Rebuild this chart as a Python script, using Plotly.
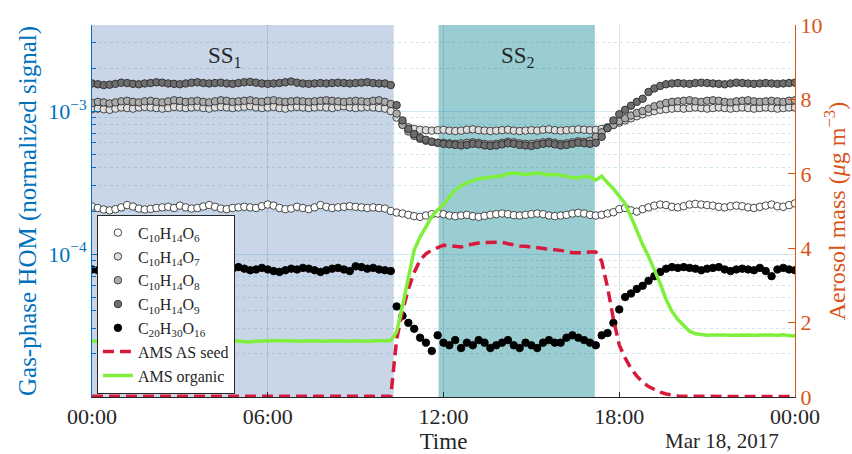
import pandas as pd
import plotly.graph_objects as go

# ---------------- data (12-min resolution, 17 Mar 2017 00:00 -> 18 Mar 2017 00:00) -------------
time = pd.date_range("2017-03-17 00:00", periods=121, freq="12min")

# C10H14O6 (x1e-4)
o6_e4 = [2.15, 2.10, 2.05, 2.02, 2.06, 2.12, 2.20, 2.15, 2.08, 2.05,
         2.07, 2.10, 2.12, 2.14, 2.10, 2.18, 2.12, 2.08, 2.10, 2.15,
         2.20, 2.14, 2.08, 2.06, 2.10, 2.12, 2.14, 2.12, 2.10, 2.16,
         2.22, 2.18, 2.10, 2.06, 2.08, 2.14, 2.10, 2.06, 2.12, 2.20,
         2.14, 2.10, 2.12, 2.14, 2.16, 2.14, 2.12, 2.10, 2.12, 2.10,
         2.08, 2.00, 1.95, 1.92, 1.88, 1.84, 1.82, 1.86, 1.90, 1.92,
         1.90, 1.86, 1.84, 1.86, 1.88, 1.84, 1.82, 1.85, 1.88, 1.90,
         1.92, 1.90, 1.87, 1.86, 1.88, 1.90, 1.92, 1.90, 1.86, 1.84,
         1.86, 1.88, 1.92, 1.94, 1.92, 1.88, 1.86, 1.88, 1.92, 1.96,
         2.06, 2.10, 2.02, 1.98, 2.06, 2.12, 2.18, 2.22, 2.20, 2.14,
         2.12, 2.16, 2.22, 2.24, 2.22, 2.20, 2.18, 2.14, 2.12, 2.16,
         2.18, 2.16, 2.12, 2.10, 2.14, 2.18, 2.22, 2.16, 2.14, 2.20, 2.26]

# C10H14O7 (x1e-4)
o7_e4 = [10.3, 10.4, 10.3, 10.2, 10.4, 10.6, 10.5, 10.4, 10.6, 10.7,
         10.6, 10.5, 10.4, 10.5, 10.7, 10.6, 10.5, 10.6, 10.7, 10.5,
         10.4, 10.6, 10.7, 10.6, 10.5, 10.6, 10.7, 10.8, 10.6, 10.5,
         10.6, 10.7, 10.5, 10.4, 10.6, 10.7, 10.6, 10.5, 10.6, 10.7,
         10.6, 10.5, 10.7, 10.8, 10.6, 10.5, 10.6, 10.7, 10.6, 10.5,
         10.4, 10.0, 9.0, 8.2, 7.7, 7.5, 7.4, 7.35, 7.3, 7.35,
         7.4, 7.3, 7.25, 7.3, 7.4, 7.45, 7.35, 7.3, 7.25, 7.3,
         7.35, 7.4, 7.3, 7.25, 7.3, 7.35, 7.3, 7.4, 7.45, 7.35,
         7.3, 7.35, 7.4, 7.45, 7.4, 7.35, 7.4, 7.5, 7.7, 8.0,
         8.3, 8.6, 8.9, 9.2, 9.5, 9.8, 10.0, 10.2, 10.3, 10.4,
         10.5, 10.4, 10.5, 10.6, 10.5, 10.4, 10.5, 10.6, 10.5, 10.4,
         10.5, 10.6, 10.5, 10.4, 10.5, 10.6, 10.5, 10.4, 10.5, 10.6, 10.6]

# C10H14O8 (x1e-4)
o8_e4 = [11.4, 11.6, 11.5, 11.3, 11.5, 11.7, 11.8, 11.6, 11.5, 11.7,
         11.8, 11.6, 11.5, 11.7, 11.9, 11.8, 11.6, 11.7, 11.8, 11.6,
         11.5, 11.7, 11.9, 11.8, 11.6, 11.7, 11.8, 11.9, 11.7, 11.6,
         11.8, 11.9, 11.7, 11.6, 11.7, 11.8, 11.7, 11.6, 11.7, 11.8,
         11.9, 11.8, 11.7, 11.6, 11.7, 11.8, 11.7, 11.6, 11.8, 11.9,
         11.6, 11.2, 9.6, 8.0, 7.2, 6.7, 6.4, 6.2, 6.1, 6.0,
         6.0, 5.95, 5.9, 5.95, 6.0, 6.05, 6.0, 5.9, 5.85, 5.9,
         6.0, 6.1, 6.05, 5.95, 5.9, 5.9, 5.95, 6.05, 6.1, 6.0,
         5.9, 5.95, 6.05, 6.15, 6.1, 6.2, 6.6, 7.1, 7.6, 8.0,
         8.5, 8.9, 9.3, 9.7, 10.0, 10.4, 10.8, 11.1, 11.4, 11.6,
         11.7, 11.8, 11.9, 11.7, 11.6, 11.8, 11.9, 11.8, 11.6, 11.5,
         11.7, 11.8, 11.9, 11.7, 11.6, 11.7, 11.8, 11.7, 11.6, 11.8, 11.9]

# C10H14O9 (x1e-4)
o9_e4 = [15.6, 15.4, 15.2, 15.3, 15.5, 15.8, 15.7, 15.5, 15.4, 15.6,
         15.7, 15.9, 15.8, 15.6, 15.5, 15.4, 15.6, 15.8, 15.9, 15.7,
         15.6, 15.7, 15.8, 15.6, 15.5, 15.7, 15.9, 16.0, 15.8, 15.6,
         15.5, 15.6, 15.7, 15.9, 16.1, 15.8, 15.6, 15.5, 15.6, 15.7,
         15.6, 15.7, 15.8, 15.7, 15.6, 15.7, 15.8, 15.9, 15.7, 15.6,
         15.6, 15.2, 11.0, 8.6, 7.5, 6.9, 6.5, 6.3, 6.1, 6.0,
         5.9, 5.85, 5.8, 5.75, 5.8, 5.9, 5.85, 5.75, 5.7, 5.75,
         5.85, 5.95, 5.9, 5.8, 5.75, 5.7, 5.8, 5.9, 5.95, 5.85,
         5.75, 5.8, 5.9, 6.0, 5.95, 5.9, 6.0, 6.6, 7.6, 8.6,
         9.5, 10.2, 10.9, 11.6, 12.2, 13.6, 14.4, 15.0, 15.4, 15.6,
         15.7, 15.6, 15.5, 15.7, 15.8, 15.7, 15.6, 15.5, 15.4, 15.6,
         15.8, 15.7, 15.6, 15.5, 15.6, 15.7, 15.6, 15.5, 15.6, 15.7, 15.8]

# C20H30O16 (x1e-5)
c20_e5 = [7.8, 7.7, 7.6, 7.8, 7.9, 8.0, 7.8, 7.6, 7.5, 7.7,
          7.9, 8.1, 7.9, 7.7, 7.6, 7.8, 8.0, 7.8, 7.6, 7.7,
          7.9, 8.0, 7.8, 7.7, 7.9, 8.1, 7.9, 7.7, 7.8, 8.0,
          7.8, 7.6, 7.5, 7.7, 7.9, 7.8, 8.0, 7.9, 7.7, 7.5,
          7.7, 7.9, 8.0, 7.8, 7.6, 8.2, 8.1, 7.9, 8.0, 7.8,
          7.7, 7.6, 4.3, 3.7, 3.3, 3.0, 2.6, 2.4, 2.1, 2.7,
          2.4, 2.3, 2.5, 2.2, 2.4, 2.3, 2.5, 2.4, 2.2, 2.3,
          2.4, 2.5, 2.3, 2.2, 2.4, 2.3, 2.2, 2.4, 2.5, 2.4,
          2.4, 2.6, 2.7, 2.6, 2.5, 2.4, 2.3, 2.7, 2.8, 3.3,
          4.1, 5.0, 5.3, 5.7, 6.0, 6.5, 7.0, 7.5, 7.9, 8.1,
          8.0, 8.1, 8.0, 7.9, 7.7, 7.9, 8.0, 8.1, 7.8, 7.6,
          7.8, 7.9, 7.8, 7.7, 8.0, 7.6, 7.0, 7.8, 8.0, 7.8, 7.7]

# AMS ammonium sulfate seed (ug m-3)
ams_seed = [
    0.02, 0.02, 0.02, 0.02, 0.02, 0.02, 0.02, 0.02, 0.02, 0.02,
    0.02, 0.02, 0.02, 0.02, 0.02, 0.02, 0.02, 0.02, 0.02, 0.02,
    0.02, 0.02, 0.02, 0.02, 0.02, 0.02, 0.02, 0.02, 0.02, 0.02,
    0.02, 0.02, 0.02, 0.02, 0.02, 0.02, 0.02, 0.02, 0.02, 0.02,
    0.02, 0.02, 0.02, 0.02, 0.02, 0.02, 0.02, 0.02, 0.02, 0.02,
    0.02, 0.02, 1.55, 2.30, 2.90, 3.35, 3.68, 3.85, 3.95, 4.02,
    4.08, 4.07, 4.04, 4.03, 4.08, 4.12, 4.14, 4.15, 4.16, 4.17,
    4.16, 4.12, 4.08, 4.06, 4.05, 4.03, 4.02, 4.00, 3.98, 3.96,
    3.95, 3.92, 3.88, 3.87, 3.88, 3.90, 3.90, 3.65, 2.95, 2.10,
    1.40, 1.05, 0.77, 0.56, 0.40, 0.28, 0.20, 0.13, 0.08, 0.05,
    0.03, 0.02, 0.02, 0.01, 0.01, 0.01, 0.01, 0.01, 0.01, 0.01,
    0.01, 0.01, 0.01, 0.01, 0.01, 0.01, 0.01, 0.01, 0.01, 0.01, 0.01]

# AMS organic (ug m-3)
ams_org = [1.50, 1.51, 1.50, 1.49, 1.50, 1.51, 1.52, 1.51, 1.50, 1.49,
           1.50, 1.51, 1.50, 1.50, 1.51, 1.52, 1.51, 1.50, 1.49, 1.50,
           1.51, 1.50, 1.49, 1.50, 1.51, 1.50, 1.49, 1.48, 1.50, 1.51,
           1.50, 1.51, 1.52, 1.51, 1.50, 1.49, 1.50, 1.51, 1.50, 1.49,
           1.50, 1.51, 1.50, 1.49, 1.50, 1.51, 1.50, 1.50, 1.51, 1.50,
           1.51, 1.52, 1.75, 2.45, 3.20, 3.95, 4.30, 4.58, 4.85, 5.03,
           5.17, 5.38, 5.56, 5.68, 5.76, 5.82, 5.87, 5.89, 5.90, 5.92,
           5.95, 6.00, 6.02, 6.00, 5.98, 6.00, 6.02, 6.00, 5.97, 5.99,
           5.97, 5.93, 5.90, 5.89, 5.93, 5.92, 5.83, 5.94, 5.76, 5.60,
           5.40, 5.20, 4.85, 4.45, 4.10, 3.78, 3.42, 3.05, 2.62, 2.30,
           2.08, 1.92, 1.77, 1.70, 1.67, 1.66, 1.67, 1.68, 1.67, 1.66,
           1.67, 1.68, 1.67, 1.66, 1.67, 1.68, 1.67, 1.66, 1.67, 1.65, 1.64]

ss_labels = ["SS<sub>1</sub>", "SS<sub>2</sub>"]
ss_start = ["2017-03-17 00:00", "2017-03-17 11:50"]
ss_end = ["2017-03-17 10:18", "2017-03-17 17:10"]
ss_label_time = ["2017-03-17 04:32", "2017-03-17 14:33"]
ss_colors = ["#c9d6e8", "#99cdd2"]

x_ticks = ["2017-03-17 00:00", "2017-03-17 06:00", "2017-03-17 12:00",
           "2017-03-17 18:00", "2017-03-18 00:00"]
x_ticktext = ["00:00", "06:00", "12:00", "18:00", "00:00"]

# ---------------- figure --------------------------------------------------------------------------
BLUE = "#0072BD"
ORANGE = "#D95319"
FONT = "Liberation Serif"

fig = go.Figure()

hom = [
    ("C<sub>10</sub>H<sub>14</sub>O<sub>6</sub>", [v * 1e-4 for v in o6_e4], "#ffffff", "#333333"),
    ("C<sub>10</sub>H<sub>14</sub>O<sub>7</sub>", [v * 1e-4 for v in o7_e4], "#dedede", "#333333"),
    ("C<sub>10</sub>H<sub>14</sub>O<sub>8</sub>", [v * 1e-4 for v in o8_e4], "#ababab", "#333333"),
    ("C<sub>10</sub>H<sub>14</sub>O<sub>9</sub>", [v * 1e-4 for v in o9_e4], "#6e6e6e", "#2a2a2a"),
    ("C<sub>20</sub>H<sub>30</sub>O<sub>16</sub>", [v * 1e-5 for v in c20_e5], "#000000", "#000000"),
]
for name, vals, fill, edge in hom:
    fig.add_trace(go.Scatter(
        x=time, y=vals, mode="markers", name=name, yaxis="y",
        marker=dict(symbol="circle", size=7.5, color=fill,
                    line=dict(color=edge, width=0.9)),
    ))

fig.add_trace(go.Scatter(
    x=time, y=ams_seed, mode="lines", name="AMS AS seed", yaxis="y2",
    line=dict(color="#d7193c", width=3.5, dash="11px,6px"),
))
fig.add_trace(go.Scatter(
    x=time, y=ams_org, mode="lines", name="AMS organic", yaxis="y2",
    line=dict(color="#7ef03b", width=3.5),
))

for s0, s1, c in zip(ss_start, ss_end, ss_colors):
    fig.add_shape(type="rect", xref="x", yref="y domain", x0=s0, x1=s1, y0=0, y1=1,
                  fillcolor=c, line=dict(width=0), layer="below")

for lab, t in zip(ss_labels, ss_label_time):
    fig.add_annotation(x=t, y=0.914, xref="x", yref="paper", text=lab, showarrow=False,
                       font=dict(family=FONT, size=23, color="#262626"),
                       xanchor="center", yanchor="middle")

fig.add_annotation(x=0.896, y=-0.118, xref="paper", yref="paper", text="Mar 18, 2017",
                   showarrow=False, font=dict(family=FONT, size=21, color="#262626"),
                   xanchor="center", yanchor="middle")

minor_vals = [m * 10 ** e for e in (-5, -4) for m in range(2, 10)] + [2e-3, 3e-3, 4e-3]

fig.update_layout(
    width=852, height=454,
    margin=dict(l=92, r=57, t=25, b=57, autoexpand=False),
    paper_bgcolor="white", plot_bgcolor="white",
    font=dict(family=FONT, size=22, color="#262626"),
    showlegend=True,
    legend=dict(x=0.007, y=0.49, xanchor="left", yanchor="top",
                bgcolor="white", bordercolor="#262626", borderwidth=1,
                font=dict(family=FONT, size=16, color="#262626"),
                tracegroupgap=0, itemwidth=30),
    xaxis=dict(
        range=["2017-03-17 00:00", "2017-03-18 00:00"], automargin=False,
        tickmode="array", tickvals=x_ticks, ticktext=x_ticktext,
        ticks="inside", ticklen=5, tickcolor="#262626",
        showline=True, linecolor="#262626", linewidth=1,
        showgrid=True, gridcolor="rgba(38,38,38,0.13)", gridwidth=1,
        zeroline=False, ticklabelstandoff=0,
        title=dict(text="Time", font=dict(family=FONT, size=23, color="#262626"), standoff=10),
        tickfont=dict(family=FONT, size=22, color="#262626"),
    ),
    yaxis=dict(
        type="log", range=[-5, -2.398], automargin=False,
        tickmode="array", tickvals=[1e-4, 1e-3],
        ticktext=["10<sup>\u22124</sup>", "10<sup>\u22123</sup>"],
        ticks="inside", ticklen=8, tickcolor=BLUE,
        showline=True, linecolor=BLUE, linewidth=1,
        showgrid=True, gridcolor="rgba(0,114,189,0.16)", gridwidth=1,
        minor=dict(tickvals=minor_vals, ticks="inside", ticklen=4, tickcolor=BLUE,
                   showgrid=True, gridcolor="rgba(0,114,189,0.18)", griddash="dot", gridwidth=1),
        zeroline=False,
        title=dict(text="Gas-phase HOM (normalized signal)",
                   font=dict(family=FONT, size=25, color=BLUE), standoff=4),
        tickfont=dict(family=FONT, size=22, color=BLUE),
    ),
    yaxis2=dict(
        overlaying="y", side="right", anchor="x", range=[0, 10], automargin=False,
        tickmode="array", tickvals=[0, 2, 4, 6, 8, 10],
        ticks="inside", ticklen=7, tickcolor=ORANGE,
        showline=True, linecolor=ORANGE, linewidth=1,
        showgrid=False, zeroline=False,
        title=dict(text="Aerosol mass (<i>\u03bc</i>g m<sup>\u22123</sup>)",
                   font=dict(family=FONT, size=24, color=ORANGE), standoff=6),
        tickfont=dict(family=FONT, size=22, color=ORANGE),
    ),
)

fig.write_html("out.html")
